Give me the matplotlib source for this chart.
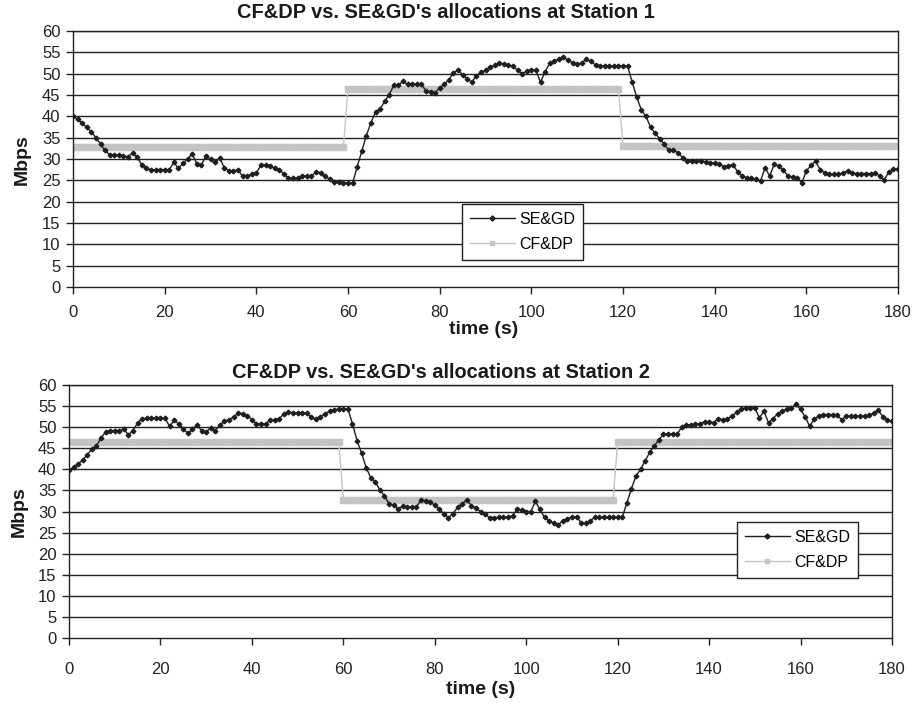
import matplotlib
matplotlib.use("Agg")
import matplotlib.pyplot as plt
from matplotlib.lines import Line2D

# time axis, one sample per second
seconds = list(range(181))

# SE&GD allocation at station 1 (Mbps)
segd_st1 = [
    40, 39.3, 38.4, 37.4, 36.4, 35, 33.5, 32, 31, 31,
    31, 30.6, 30.5, 31.4, 30.5, 28.6, 27.8, 27.5, 27.5, 27.5,
    27.5, 27.5, 29.2, 27.8, 29, 30, 31.2, 28.9, 28.6, 30.7,
    30, 29.2, 30.2, 28, 27.2, 27.2, 27.5, 25.9, 25.9, 26.5,
    26.7, 28.6, 28.6, 28.4, 27.8, 27.5, 26.5, 25.5, 25.5, 25.5,
    26, 26, 25.9, 27, 26.8, 25.9, 25.3, 24.7, 24.5, 24.3,
    24.3, 24.3, 28.2, 31.8, 35.5, 38.5, 41, 41.7, 43.5, 45.1,
    47.3, 47.3, 48.2, 47.5, 47.5, 47.5, 47.5, 46, 45.8, 45.5,
    46.7, 47.5, 48.6, 50.2, 50.8, 49.8, 48.8, 48, 49.5, 50.3,
    50.8, 51.5, 52, 52.4, 52.3, 52, 51.7, 50.8, 50, 50.6,
    50.8, 50.8, 48, 50.5, 52.4, 53, 53.4, 53.9, 53.1, 52.6,
    52.2, 52.5, 53.4, 52.9, 52, 51.8, 51.8, 51.8, 51.8, 51.8,
    51.8, 51.8, 48, 44.5, 41.5, 40, 37.5, 36, 34.8, 33.5,
    32, 32, 31.5, 30.3, 29.6, 29.5, 29.5, 29.5, 29.3, 29.1,
    29, 28.8, 28.2, 28.4, 28.7, 27, 26, 25.6, 25.6, 25.2,
    24.8, 28, 26, 28.8, 28.3, 27.4, 26, 25.8, 25.6, 24.4,
    27.2, 28.5, 29.5, 27.5, 26.8, 26.4, 26.4, 26.4, 26.8, 27.2,
    26.8, 26.6, 26.6, 26.6, 26.6, 26.8, 26, 25.1, 27, 27.6,
    27.6,
]

# SE&GD allocation at station 2 (Mbps)
segd_st2 = [
    39.8, 40.5, 41.3, 42.2, 43.5, 44.8, 45.5, 47.5, 48.8, 49.2,
    49.2, 49.2, 49.5, 48.2, 49.2, 51, 52, 52.1, 52.1, 52.1,
    52.1, 52.1, 50.2, 51.6, 50.8, 49.6, 48.5, 49.5, 50.5, 49.2,
    48.9, 49.8, 49.2, 50.5, 51.4, 51.8, 52.4, 53.3, 53.2, 52.7,
    51.8, 50.8, 50.8, 50.8, 51.7, 51.7, 52, 53.2, 53.5, 53.4,
    53.4, 53.4, 53.3, 52.3, 52, 52.5, 53.2, 53.8, 54.1, 54.3,
    54.3, 54.3, 50.8, 46.8, 43.8, 40.4, 38, 37, 35.1, 33.7,
    31.8, 31.5, 30.6, 31.2, 31, 31.1, 31.1, 32.7, 32.6, 32.2,
    31.5, 30.5, 29.5, 28.5, 29.5, 31, 31.8, 32.8, 31.4, 30.8,
    30, 29.4, 28.5, 28.5, 28.6, 28.6, 28.6, 29, 30.5, 30.3,
    30, 30, 32.4, 30.5, 28.6, 27.8, 27.2, 26.8, 27.8, 28.3,
    28.6, 28.8, 27.3, 27.2, 27.8, 28.6, 28.6, 28.6, 28.6, 28.6,
    28.6, 28.6, 32, 35.4, 38.4, 40, 42, 44, 45.5, 47,
    48.3, 48.3, 48.3, 48.3, 50, 50.5, 50.6, 50.7, 50.8, 51.3,
    51.3, 51.1, 52, 51.8, 52, 52.6, 53.5, 54.3, 54.6, 54.6,
    54.6, 52.2, 53.8, 51, 52, 53.2, 53.8, 54.3, 54.6, 55.4,
    54.2, 52.5, 50.2, 52, 52.6, 53, 53, 53, 52.8, 51.8,
    52.6, 52.6, 52.6, 52.6, 52.6, 52.8, 53.3, 54, 52.5, 51.6,
    51.4,
]

# CF&DP keeps one level per 60 s period
cfdp_st1 = [32.8] * 60 + [46.5] * 60 + [33.0] * 61
cfdp_st2 = [46.5] * 60 + [32.8] * 60 + [46.5] * 61

titles = ["CF&DP vs. SE&GD's allocations at Station 1",
          "CF&DP vs. SE&GD's allocations at Station 2"]
xticks = list(range(0, 181, 20))
yticks = list(range(0, 61, 5))

plt.rcParams['font.family'] = ['Liberation Sans', 'DejaVu Sans']

W, H = 915.0, 704.0
fig = plt.figure(figsize=(W / 100, H / 100), dpi=100)
fig.patch.set_facecolor('white')

# positions measured on the scan, in pixels
boxes = [(73, 31, 898, 287), (69, 385, 892, 638)]
xtick_pad = [8, 12]
title_pos = [(446, 13), (441, 372)]
xlabel_pos = [(484, 330), (481, 690)]
ylabel_pos = [(22, 160), (19, 512)]
legend_pos = [(462, 204), (737, 522)]

seg_color = '#1e1e1e'
cf_color = '#c4c4c4'

for k, (segd, cfdp) in enumerate([(segd_st1, cfdp_st1), (segd_st2, cfdp_st2)]):
    x0, y0, x1, y1 = boxes[k]
    ax = fig.add_axes([x0 / W, 1 - y1 / H, (x1 - x0) / W, (y1 - y0) / H])
    ax.set_facecolor('white')

    for v in yticks[1:]:
        ax.axhline(v, color='#222222', lw=1.0, zorder=1)

    ax.plot(seconds, cfdp, color=cf_color, lw=1.0, marker='s', ms=4.5,
            mec=cf_color, mfc=cf_color, zorder=2)
    ax.plot(seconds, segd, color=seg_color, lw=1.0, marker='D', ms=2.4,
            mec=seg_color, mfc=seg_color, zorder=3)

    ax.set_xlim(0, 180)
    ax.set_ylim(0, 60)
    ax.set_xticks(xticks)
    ax.set_yticks(yticks)
    ax.tick_params(axis='x', direction='out', length=5, width=1,
                   labelsize=12, pad=xtick_pad[k], colors='#222222')
    ax.tick_params(axis='y', direction='out', length=5, width=1,
                   labelsize=12, pad=4, colors='#222222')
    for sp in ax.spines.values():
        sp.set_color('#222222')
        sp.set_linewidth(1.0)

    fig.text(title_pos[k][0] / W, 1 - title_pos[k][1] / H, titles[k],
             ha='center', va='center', fontsize=14.4, fontweight='bold',
             color='#1a1a1a')
    fig.text(xlabel_pos[k][0] / W, 1 - xlabel_pos[k][1] / H, 'time (s)',
             ha='center', va='center', fontsize=14, fontweight='bold',
             color='#1a1a1a')
    fig.text(ylabel_pos[k][0] / W, 1 - ylabel_pos[k][1] / H, 'Mbps',
             ha='center', va='center', rotation=90, fontsize=14,
             fontweight='bold', color='#1a1a1a')

    handles = [
        Line2D([], [], color=seg_color, lw=1.0, marker='D', ms=2.6),
        Line2D([], [], color=cf_color, lw=1.0, marker='s', ms=3.5),
    ]
    leg = ax.legend(handles, ['SE&GD', 'CF&DP'], loc='upper left',
                    bbox_to_anchor=(legend_pos[k][0] / W, 1 - legend_pos[k][1] / H),
                    bbox_transform=fig.transFigure, fontsize=11.5,
                    frameon=True, fancybox=False, framealpha=1,
                    handlelength=2.8, handletextpad=0.3, labelspacing=0.62,
                    borderpad=0.5, borderaxespad=0)
    leg.get_frame().set_edgecolor('#222222')
    leg.get_frame().set_linewidth(1.0)
    leg.set_zorder(5)

fig.savefig('out.png', dpi=100, facecolor='white')
